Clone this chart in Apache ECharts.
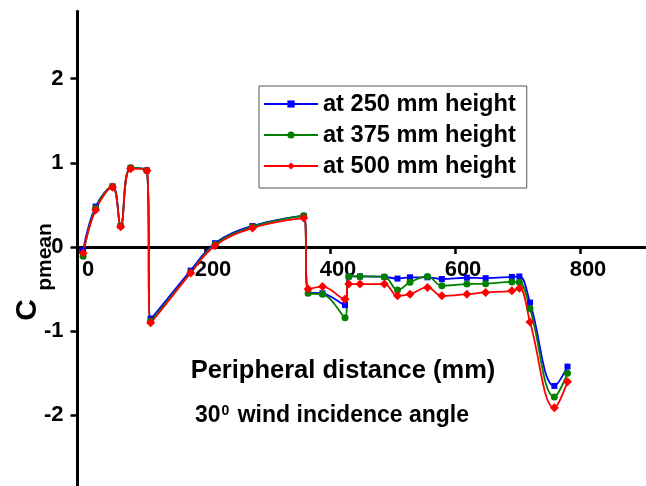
<!DOCTYPE html>
<html>
<head>
<meta charset="utf-8">
<script src="https://cdn.jsdelivr.net/npm/echarts@6/dist/echarts.min.js"></script>
<style>
  html, body { margin: 0; padding: 0; background: #ffffff; }
  #chart { width: 646px; height: 486px; }
</style>
</head>
<body>
<div id="chart"></div>
<script>
// Peripheral distance of each pressure tap (mm)
const distance = [5, 25, 52, 65, 81, 107, 113, 177, 216, 276, 358, 365, 388, 424, 430, 448, 487, 508, 528, 556, 579, 619, 649, 691, 703, 720, 759, 780];

// Mean pressure coefficient at three tap heights
const cp250 = [-0.04, 0.48, 0.72, 0.25, 0.94, 0.91, -0.85, -0.28, 0.045, 0.25, 0.37, -0.54, -0.55, -0.69, -0.35, -0.35, -0.355, -0.375, -0.36, -0.36, -0.38, -0.365, -0.37, -0.355, -0.35, -0.66, -1.65, -1.42];
const cp375 = [-0.11, 0.46, 0.72, 0.25, 0.94, 0.91, -0.88, -0.30, 0.03, 0.24, 0.37, -0.55, -0.56, -0.84, -0.35, -0.35, -0.355, -0.51, -0.42, -0.35, -0.46, -0.44, -0.435, -0.415, -0.42, -0.73, -1.78, -1.50];
const cp500 = [-0.07, 0.44, 0.71, 0.24, 0.93, 0.905, -0.90, -0.31, 0.015, 0.225, 0.344, -0.50, -0.47, -0.62, -0.44, -0.44, -0.44, -0.58, -0.56, -0.48, -0.58, -0.56, -0.54, -0.52, -0.49, -0.89, -1.91, -1.60];

const seriesNames = ['at 250 mm height', 'at 375 mm height', 'at 500 mm height'];
const xTicks = [0, 200, 400, 600, 800];
const yTicks = [-2, -1, 0, 1, 2];

const FONT = "'Liberation Sans', Arial, Helvetica, sans-serif";

// Plot frame: y runs from -3 (below the page edge) to 2.8
const Y_MIN = -3, Y_MAX = 2.8;
const GRID_TOP = 11.24, GRID_BOTTOM = -13.6, PAGE_H = 486;
// pixel distance from the grid's lower edge up to the Cp = 0 line
const plotH = PAGE_H - GRID_TOP - GRID_BOTTOM;
const zeroLift = plotH * (0 - Y_MIN) / (Y_MAX - Y_MIN);

function pairs(ys) {
  return distance.map((x, i) => [x, ys[i]]);
}

function lineSeries(name, ys, color, symbol, size) {
  return {
    name: name,
    type: 'line',
    data: pairs(ys),
    smooth: 0.4,
    symbol: symbol,
    symbolSize: size,
    showAllSymbol: true,
    lineStyle: { color: color, width: 1.8 },
    itemStyle: { color: color },
    emphasis: { disabled: true }
  };
}

const chart = echarts.init(document.getElementById('chart'), null, { renderer: 'canvas' });

chart.setOption({
  animation: false,
  backgroundColor: '#ffffff',
  grid: {
    left: 77.5, right: 1, top: GRID_TOP, bottom: GRID_BOTTOM,
    containLabel: false,
    outerBoundsMode: 'none'
  },
  xAxis: {
    type: 'value',
    min: -4,
    max: 904,
    position: 'bottom',
    offset: -zeroLift,
    axisLine: { onZero: false, lineStyle: { color: '#000', width: 3 } },
    axisTick: { customValues: xTicks, length: 7, lineStyle: { color: '#000', width: 2.5 } },
    axisLabel: {
      customValues: xTicks,
      color: '#000',
      fontFamily: FONT,
      fontWeight: 'bold',
      fontSize: 22,
      margin: 12,
      padding: [0, 0, 0, 16]
    },
    splitLine: { show: false }
  },
  yAxis: {
    type: 'value',
    min: Y_MIN,
    max: Y_MAX,
    axisLine: { onZero: false, lineStyle: { color: '#000', width: 3 } },
    axisTick: { customValues: yTicks, length: 7, lineStyle: { color: '#000', width: 2.5 } },
    axisLabel: {
      customValues: yTicks,
      color: '#000',
      fontFamily: FONT,
      fontWeight: 'bold',
      fontSize: 22,
      margin: 14
    },
    splitLine: { show: false }
  },
  legend: {
    orient: 'vertical',
    left: 259,
    top: 86,
    data: seriesNames,
    itemWidth: 54,
    itemHeight: 9,
    itemGap: 7,
    padding: [6, 11, 10, 4],
    borderColor: '#555',
    borderWidth: 1,
    backgroundColor: '#fff',
    textStyle: { color: '#000', fontFamily: FONT, fontWeight: 'bold', fontSize: 23.6 }
  },
  graphic: [
    {
      type: 'text', x: 28, y: 310, rotation: Math.PI / 2,
      style: { text: 'C', fill: '#000', font: 'bold 30px ' + FONT, textAlign: 'center', textVerticalAlign: 'middle' }
    },
    {
      type: 'text', x: 45, y: 257, rotation: Math.PI / 2,
      style: { text: 'pmean', fill: '#000', font: 'bold 21px ' + FONT, textAlign: 'center', textVerticalAlign: 'middle' }
    },
    {
      type: 'text', x: 343, y: 371,
      style: { text: 'Peripheral distance (mm)', fill: '#000', font: 'bold 25.5px ' + FONT, textAlign: 'center', textVerticalAlign: 'middle' }
    },
    {
      type: 'text', x: 332, y: 416,
      style: {
        text: '{n|30}{s|0}{n| wind incidence angle}',
        textAlign: 'center',
        textVerticalAlign: 'middle',
        rich: {
          n: { fill: '#000', fontFamily: FONT, fontWeight: 'bold', fontSize: 23, verticalAlign: 'bottom' },
          s: { fill: '#000', fontFamily: FONT, fontWeight: 'bold', fontSize: 14, verticalAlign: 'top', padding: [0, 2, 4, 1] }
        }
      }
    }
  ],
  series: [
    lineSeries(seriesNames[0], cp250, '#0000ff', 'rect', 6),
    lineSeries(seriesNames[1], cp375, '#008000', 'circle', 7),
    lineSeries(seriesNames[2], cp500, '#ff0000', 'diamond', 9)
  ]
});
</script>
</body>
</html>
